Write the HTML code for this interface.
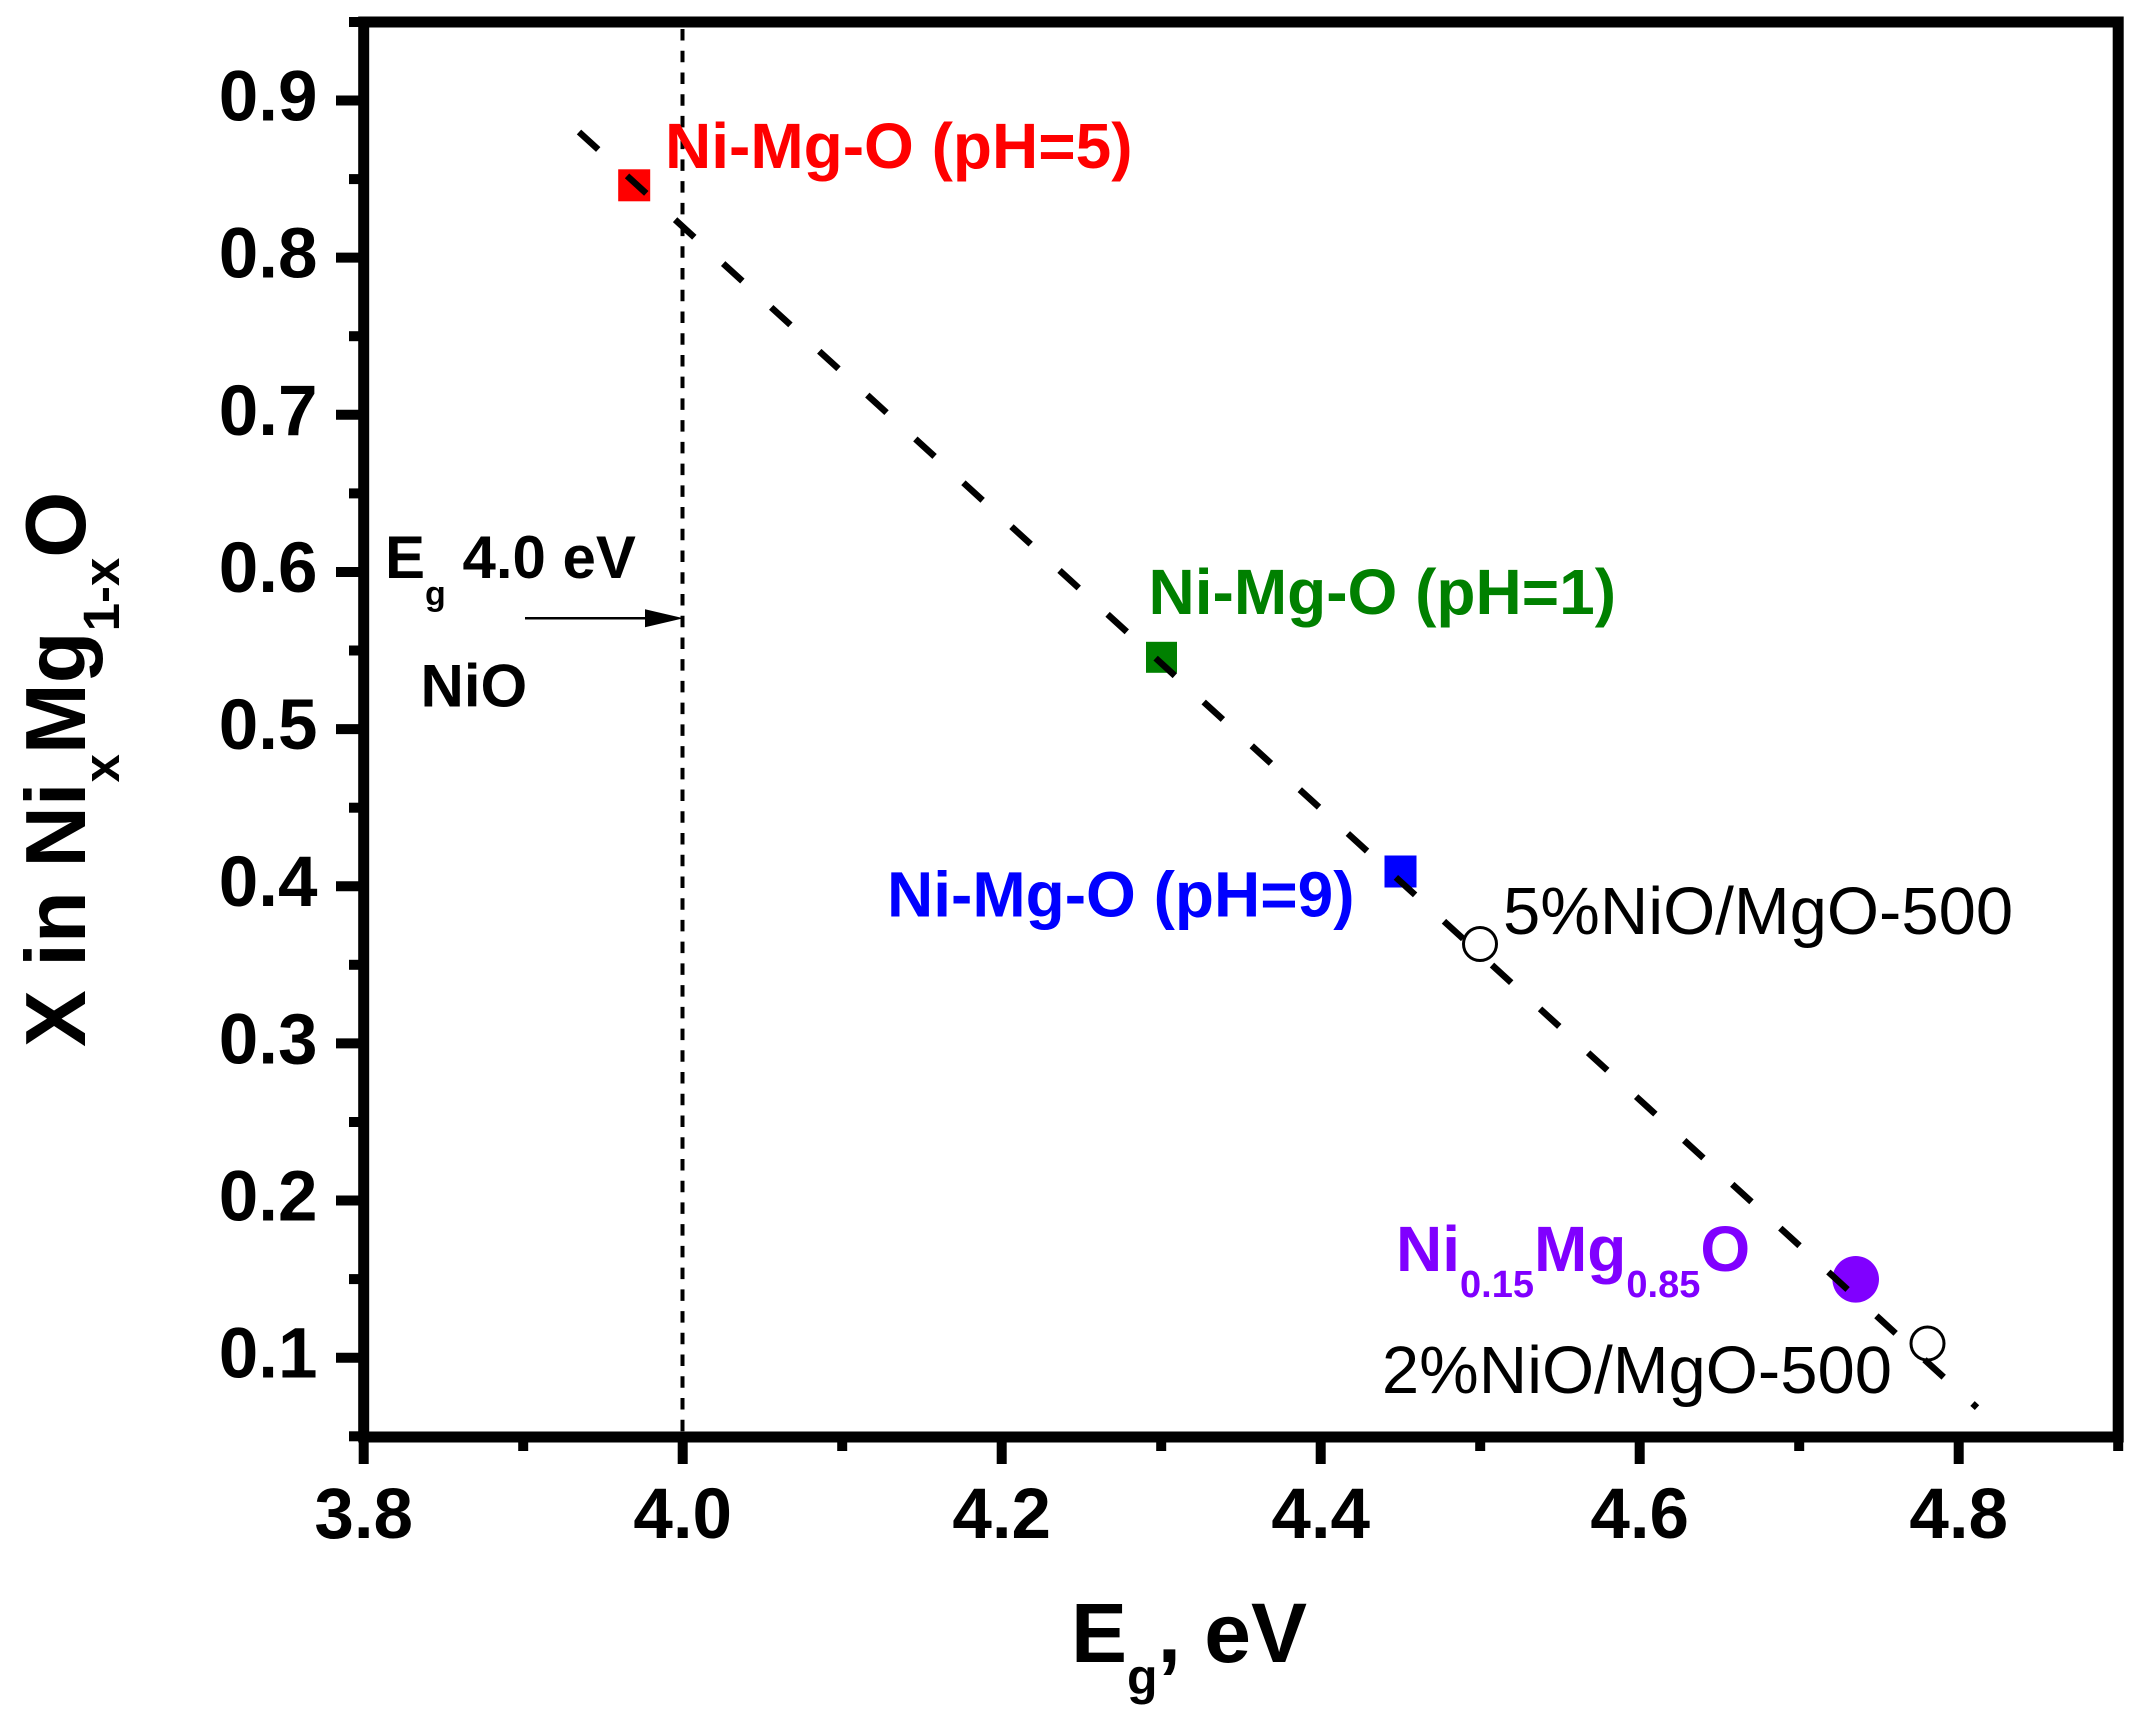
<!DOCTYPE html>
<html>
<head>
<meta charset="utf-8">
<style>
  html, body { margin: 0; padding: 0; background: #ffffff; }
  svg { display: block; }
  text { font-family: "Liberation Sans", Arial, sans-serif; white-space: pre; }
</style>
</head>
<body>
<svg width="2144" height="1717" viewBox="0 0 2144 1717" xmlns="http://www.w3.org/2000/svg">
  <rect x="0" y="0" width="2144" height="1717" fill="#ffffff"/>

  <!-- vertical dashed line at Eg = 4.0 -->
  <line x1="682.5" y1="29" x2="682.5" y2="1432" stroke="#000" stroke-width="4" stroke-dasharray="11.5 10.23"/>

  <!-- markers -->
  <rect x="618.2" y="169.3" width="32" height="32" fill="#FF0000"/>
  <rect x="1146" y="641.8" width="31" height="31" fill="#008000"/>
  <rect x="1384.5" y="855.5" width="32" height="32" fill="#0000FF"/>
  <circle cx="1480" cy="944" r="16.5" fill="#ffffff" stroke="#000" stroke-width="3"/>
  <circle cx="1927.5" cy="1343.5" r="16.5" fill="#ffffff" stroke="#000" stroke-width="3"/>
  <circle cx="1855.7" cy="1279.3" r="23.3" fill="#8000FF"/>

  <!-- fit dashed line -->
  <line x1="579" y1="132" x2="1977" y2="1407.6" stroke="#000" stroke-width="6.5" stroke-dasharray="26 39.05" stroke-linecap="butt"/>

  <!-- frame -->
  <rect x="363.7" y="22" width="1754.5" height="1415" fill="none" stroke="#000" stroke-width="11"/>

  <!-- Y ticks major -->
  <g stroke="#000" stroke-width="10">
    <line x1="336" y1="100.5" x2="364" y2="100.5"/>
    <line x1="336" y1="257.65" x2="364" y2="257.65"/>
    <line x1="336" y1="414.8" x2="364" y2="414.8"/>
    <line x1="336" y1="571.95" x2="364" y2="571.95"/>
    <line x1="336" y1="729.1" x2="364" y2="729.1"/>
    <line x1="336" y1="886.25" x2="364" y2="886.25"/>
    <line x1="336" y1="1043.4" x2="364" y2="1043.4"/>
    <line x1="336" y1="1200.55" x2="364" y2="1200.55"/>
    <line x1="336" y1="1357.7" x2="364" y2="1357.7"/>
    <!-- minor -->
    <line x1="349" y1="22" x2="364" y2="22"/>
    <line x1="349" y1="179.1" x2="364" y2="179.1"/>
    <line x1="349" y1="336.2" x2="364" y2="336.2"/>
    <line x1="349" y1="493.4" x2="364" y2="493.4"/>
    <line x1="349" y1="650.5" x2="364" y2="650.5"/>
    <line x1="349" y1="807.7" x2="364" y2="807.7"/>
    <line x1="349" y1="964.8" x2="364" y2="964.8"/>
    <line x1="349" y1="1122" x2="364" y2="1122"/>
    <line x1="349" y1="1279.1" x2="364" y2="1279.1"/>
    <line x1="349" y1="1436.3" x2="364" y2="1436.3"/>
  </g>

  <!-- X ticks -->
  <g stroke="#000" stroke-width="10">
    <line x1="363.7" y1="1437" x2="363.7" y2="1464"/>
    <line x1="682.7" y1="1437" x2="682.7" y2="1464"/>
    <line x1="1001.7" y1="1437" x2="1001.7" y2="1464"/>
    <line x1="1320.7" y1="1437" x2="1320.7" y2="1464"/>
    <line x1="1639.7" y1="1437" x2="1639.7" y2="1464"/>
    <line x1="1958.7" y1="1437" x2="1958.7" y2="1464"/>
    <line x1="523.2" y1="1437" x2="523.2" y2="1451"/>
    <line x1="842.2" y1="1437" x2="842.2" y2="1451"/>
    <line x1="1161.2" y1="1437" x2="1161.2" y2="1451"/>
    <line x1="1480.2" y1="1437" x2="1480.2" y2="1451"/>
    <line x1="1799.2" y1="1437" x2="1799.2" y2="1451"/>
    <line x1="2118.2" y1="1437" x2="2118.2" y2="1451"/>
  </g>

  <!-- Y tick labels -->
  <g font-size="71" font-weight="bold" fill="#000" text-anchor="end">
    <text x="317.5" y="120.5">0.9</text>
    <text x="317.5" y="277.6">0.8</text>
    <text x="317.5" y="434.8">0.7</text>
    <text x="317.5" y="591.9">0.6</text>
    <text x="317.5" y="749.1">0.5</text>
    <text x="317.5" y="906.2">0.4</text>
    <text x="317.5" y="1063.4">0.3</text>
    <text x="317.5" y="1220.5">0.2</text>
    <text x="317.5" y="1377.7">0.1</text>
  </g>

  <!-- X tick labels -->
  <g font-size="71" font-weight="bold" fill="#000" text-anchor="middle">
    <text x="363.7" y="1538">3.8</text>
    <text x="682.7" y="1538">4.0</text>
    <text x="1001.7" y="1538">4.2</text>
    <text x="1320.7" y="1538">4.4</text>
    <text x="1639.7" y="1538">4.6</text>
    <text x="1958.7" y="1538">4.8</text>
  </g>

  <!-- Axis titles -->
  <text x="1071" y="1662" font-size="84" font-weight="bold" fill="#000">E<tspan font-size="50" dy="32">g</tspan><tspan dy="-32">, eV</tspan></text>
  <text transform="translate(85,1047) rotate(-90)" font-size="85" font-weight="bold" fill="#000">X in Ni<tspan font-size="51" dy="34">x</tspan><tspan dy="-34">Mg</tspan><tspan font-size="51" dy="34">1-x</tspan><tspan dy="-34">O</tspan></text>

  <!-- Annotation: Eg 4.0 eV / NiO with arrow -->
  <text x="385" y="578" font-size="60" font-weight="bold" fill="#000">E<tspan font-size="34" dy="27">g</tspan><tspan dy="-27"> 4.0 eV</tspan></text>
  <line x1="525" y1="618.3" x2="650" y2="618.3" stroke="#000" stroke-width="2.5"/>
  <polygon points="645,609.3 683.5,618.3 645,627.3" fill="#000"/>
  <text x="420.5" y="706.7" font-size="60" font-weight="bold" fill="#000">NiO</text>

  <!-- Series labels -->
  <text x="665" y="168" font-size="64" font-weight="bold" fill="#FF0000">Ni-Mg-O (pH=5)</text>
  <text x="1148.5" y="614" font-size="64" font-weight="bold" fill="#008000">Ni-Mg-O (pH=1)</text>
  <text x="887" y="916.7" font-size="64" font-weight="bold" fill="#0000FF">Ni-Mg-O (pH=9)</text>
  <text x="1396" y="1271" font-size="64" font-weight="bold" fill="#8000FF">Ni<tspan font-size="38" dy="26">0.15</tspan><tspan dy="-26">Mg</tspan><tspan font-size="38" dy="26">0.85</tspan><tspan dy="-26">O</tspan></text>
  <text x="1503" y="934" font-size="67" fill="#000">5%NiO/MgO-500</text>
  <text x="1892" y="1393" font-size="67" fill="#000" text-anchor="end">2%NiO/MgO-500</text>
</svg>
</body>
</html>
